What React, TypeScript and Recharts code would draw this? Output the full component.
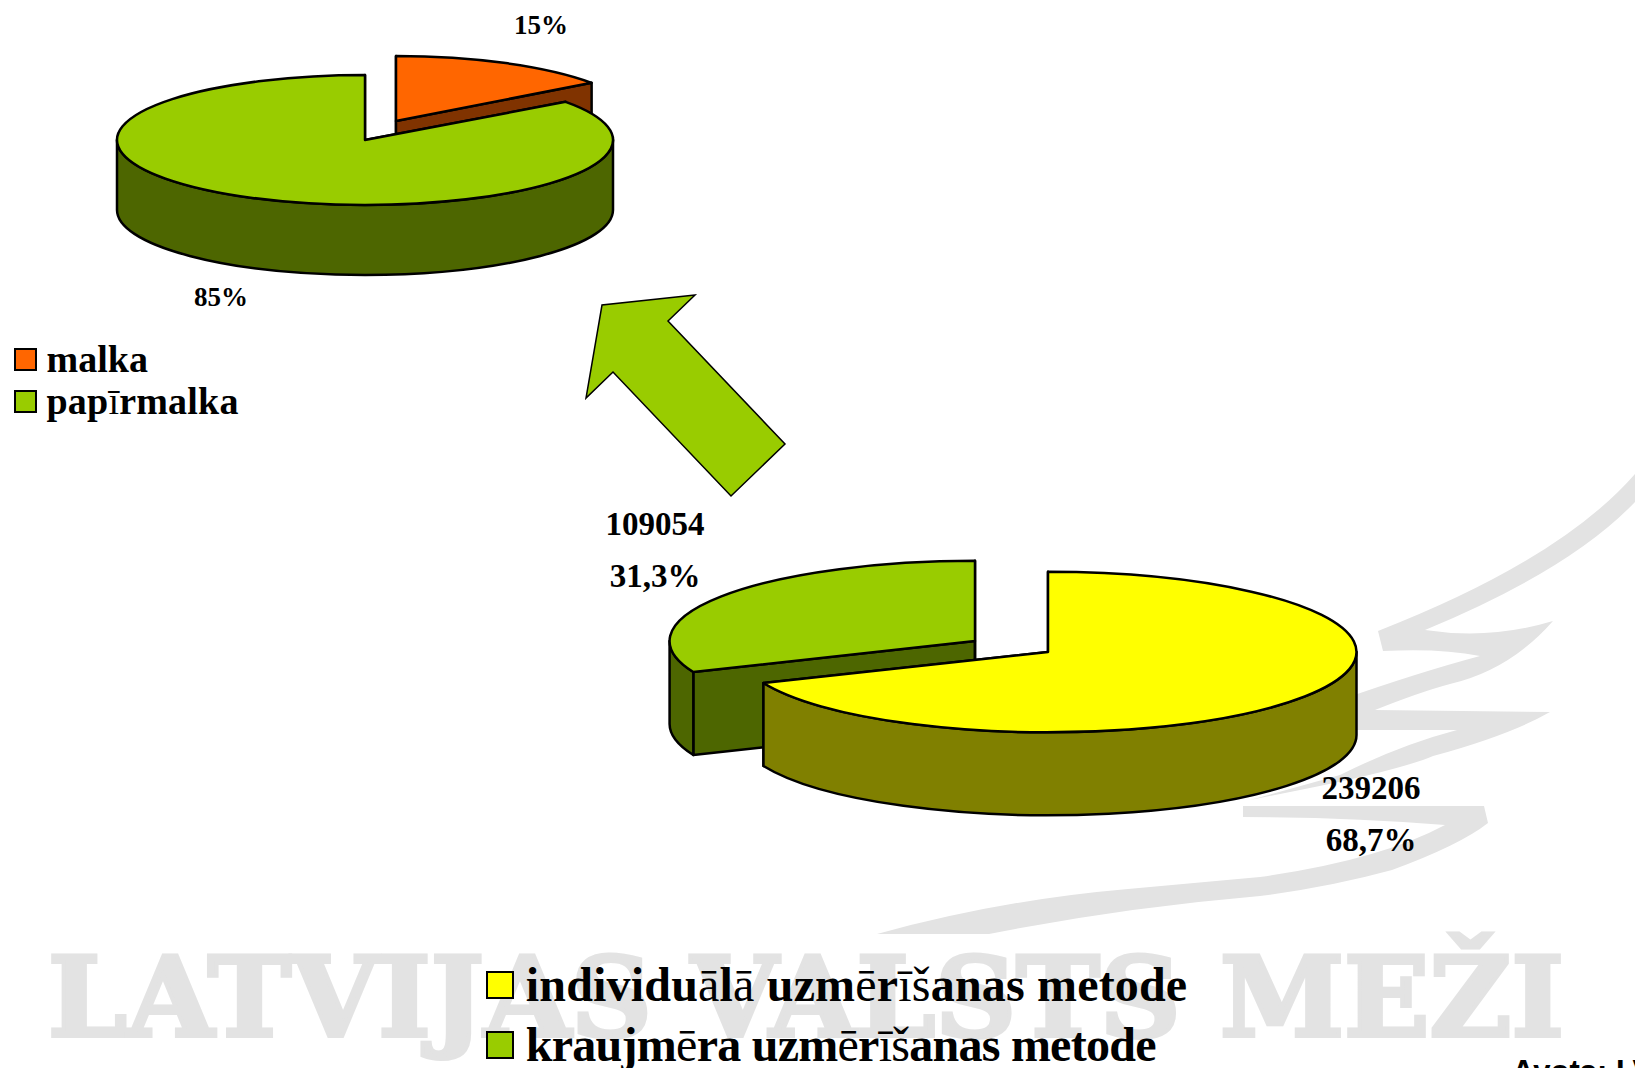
import React from "react";
import { PieChart, Pie, Legend } from "recharts";

const WIDTH = 1635;
const HEIGHT = 1068;
const SERIF = "'Liberation Serif', serif";

// kopējais apjoms pa uzmērīšanas metodēm
const methodNames = ["kraujmēra uzmērīšanas metode", "individuālā uzmērīšanas metode"];
const methodValues = [109054, 239206];
const methodColors = ["#99CC00", "#FFFF00"];
const methodSides = ["#4D6600", "#808000"];

// kraujmēra sadalījums
const woodNames = ["malka", "papīrmalka"];
const woodValues = [15, 85];
const woodColors = ["#FF6600", "#99CC00"];
const woodSides = ["#803300", "#4D6600"];

const methodData = methodNames.map((name, i) => ({
  name,
  value: methodValues[i],
  fill: methodColors[i],
  side: methodSides[i],
}));
const woodData = woodNames.map((name, i) => ({
  name,
  value: woodValues[i],
  fill: woodColors[i],
  side: woodSides[i],
}));

// pirmā sektora sākums, lai individuālā sāktos augšā un ietu pulksteņrādītāja virzienā
const methodStart = 90 + (360 * methodValues[0]) / (methodValues[0] + methodValues[1]);

// nobīde x, y un platuma mērogs izvirzītajiem sektoriem
const explode: Record<string, [number, number, number]> = {
  [methodNames[0]]: [-73, -11, 0.99],
  [woodNames[0]]: [31, -19, 0.975],
};

const labelAt: Record<string, [number, number][]> = {
  [methodNames[0]]: [[655, 535], [655, 587]],
  [methodNames[1]]: [[1371, 799], [1371, 851]],
  [woodNames[0]]: [[541, 34]],
  [woodNames[1]]: [[221, 306]],
};

const legendAt = [
  { names: woodNames, spacing: [0, 0.2], left: 14, top: 346.5, box: 21, size: 38, gap: 42.5 },
  {
    names: [methodNames[1], methodNames[0]],
    spacing: [0.18, -0.74],
    left: 486,
    top: 969.5,
    box: 26,
    size: 48,
    gap: 60.5,
  },
];

const arrowPoints = "695,295 602,305 586,398 613,372 731,496 785,444 668,321";

const wingPaths = [
  "M1635 474 Q1560 560 1378 631 L1383 651 Q1440 648 1480 656 Q1420 672 1340 700 L1340 735 L1357 730 L1457 730 Q1400 745 1340 775 L1250 800 L1300 790 Q1400 770 1433 756 Q1510 735 1550 712 L1375 710 Q1420 692 1450 684 Q1510 670 1553 621 Q1490 640 1425 630 Q1570 570 1635 502 Z",
  "M1243 806 L1484 806 L1488 823 Q1460 845 1392 870 Q1330 887 1260 896 Q1120 908 989 934 L877 934 Q1000 900 1128 889 L1260 877 Q1380 860 1445 825 Q1350 817 1243 817 Z",
];

const point = (cx: number, cy: number, rx: number, ry: number, deg: number) => {
  const rad = (deg * Math.PI) / 180;
  return [cx + rx * Math.cos(rad), cy - ry * Math.sin(rad)];
};

// sektors kā elipse ar sānu sienu
const DiscSector = (squash: number, depth: number) => (props: any) => {
  const [dx, dy, widthScale] = explode[props.name] || [0, 0, 1];
  const cx = props.cx + dx;
  const cy = props.cy + dy;
  const rx = props.outerRadius * widthScale;
  const ry = props.outerRadius * squash;
  const { startAngle, endAngle } = props;
  const [x1, y1] = point(cx, cy, rx, ry, startAngle);
  const [x2, y2] = point(cx, cy, rx, ry, endAngle);
  const large = Math.abs(startAngle - endAngle) > 180 ? 1 : 0;
  const top = `M${cx} ${cy} L${x1} ${y1} A${rx} ${ry} 0 ${large} 1 ${x2} ${y2} Z`;
  const line = { stroke: "#000", strokeWidth: 2.5, strokeLinejoin: "round" as const };

  const walls: string[] = [];
  [-1, 0, 1].forEach((k) => {
    const hi = Math.min(startAngle, 360 * k);
    const lo = Math.max(endAngle, -180 + 360 * k);
    if (hi <= lo) return;
    const [ax, ay] = point(cx, cy, rx, ry, hi);
    const [bx, by] = point(cx, cy, rx, ry, lo);
    walls.push(
      `M${ax} ${ay} A${rx} ${ry} 0 0 1 ${bx} ${by} L${bx} ${by + depth} A${rx} ${ry} 0 0 0 ${ax} ${ay + depth} Z`
    );
  });
  const radial = (x: number, y: number) =>
    `M${cx} ${cy} L${x} ${y} L${x} ${y + depth} L${cx} ${cy + depth} Z`;

  return (
    <g>
      <path d={radial(x1, y1)} fill={props.side} {...line} />
      <path d={radial(x2, y2)} fill={props.side} {...line} />
      {walls.map((d) => (
        <path key={d} d={d} fill={props.side} {...line} />
      ))}
      <path d={top} fill={props.fill} {...line} />
    </g>
  );
};

const percentText = (percent: number, digits: number) =>
  `${(percent * 100).toFixed(digits).replace(".", ",")}%`;

const renderLabel = (size: number, withValue: boolean) => (props: any) => {
  const spots = labelAt[props.name];
  const lines = withValue
    ? [String(props.value), percentText(props.percent, 1)]
    : [percentText(props.percent, 0)];
  return (
    <g>
      {lines.map((t, i) => (
        <text
          key={t}
          x={spots[i][0]}
          y={spots[i][1]}
          textAnchor="middle"
          fontFamily={SERIF}
          fontWeight="bold"
          fontSize={size}
          fill="#000"
        >
          {t}
        </text>
      ))}
    </g>
  );
};

// garumzīmes oriģinālā ir plānākas
const lettered = (text: string) =>
  text.split(/([āēīš])/).map((part, i) =>
    i % 2 ? (
      <span key={i} style={{ fontWeight: 400 }}>
        {part}
      </span>
    ) : (
      part
    )
  );

const renderLegend = ({ payload }: any) => (
  <div>
    {legendAt.map((group) =>
      group.names.map((name, i) => {
        const item = (payload || []).find((p: any) => p.value === name);
        return (
          <div
            key={name}
            style={{
              position: "absolute",
              left: group.left,
              top: group.top + i * group.gap,
              display: "flex",
              alignItems: "center",
              whiteSpace: "nowrap",
              fontFamily: SERIF,
              fontWeight: "bold",
              fontSize: group.size,
              letterSpacing: group.spacing[i],
              lineHeight: `${group.box + 4}px`,
              color: "#000",
            }}
          >
            <span
              style={{
                display: "inline-block",
                width: group.box - 2,
                height: group.box - 2,
                marginRight: group.box / 2.2,
                background: item ? item.color : "none",
                border: "2px solid #000",
              }}
            />
            <span>{lettered(name)}</span>
          </div>
        );
      })
    )}
  </div>
);

export default function App() {
  return (
    <div
      style={{
        position: "absolute",
        left: 0,
        top: 0,
        width: WIDTH,
        height: HEIGHT,
        overflow: "hidden",
        background: "#fff",
      }}
    >
      <svg width={WIDTH} height={HEIGHT} style={{ position: "absolute", left: 0, top: 0 }}>
        {wingPaths.map((d) => (
          <path key={d} d={d} fill="#E3E3E3" />
        ))}
        <text
          x={48}
          y={1036}
          textLength={1516}
          lengthAdjust="spacingAndGlyphs"
          fontFamily="'DejaVu Serif', serif"
          fontWeight="bold"
          fontSize={110}
          fill="#E3E3E3"
          stroke="#E3E3E3"
          strokeWidth={4}
        >
          LATVIJAS VALSTS MEŽI
        </text>
        <polygon points={arrowPoints} fill="#99CC00" stroke="#000" strokeWidth={1.5} />
      </svg>
      <div style={{ position: "absolute", left: 0, top: 0 }}>
        <PieChart width={WIDTH} height={HEIGHT} margin={{ top: 0, right: 0, bottom: 0, left: 0 }}>
          <Pie
            data={woodData}
            dataKey="value"
            nameKey="name"
            cx={365}
            cy={140}
            outerRadius={248}
            startAngle={90}
            endAngle={-270}
            stroke="#000"
            shape={DiscSector(0.262, 70)}
            label={renderLabel(27, false)}
            labelLine={false}
            isAnimationActive={false}
          />
          <Pie
            data={methodData}
            dataKey="value"
            nameKey="name"
            cx={1048}
            cy={652}
            outerRadius={308.5}
            startAngle={methodStart}
            endAngle={methodStart - 360}
            stroke="#000"
            shape={DiscSector(0.26, 83)}
            label={renderLabel(33, true)}
            labelLine={false}
            isAnimationActive={false}
          />
          <Legend
            content={renderLegend}
            wrapperStyle={{ position: "absolute", left: 0, top: 0, width: WIDTH, height: HEIGHT }}
          />
        </PieChart>
      </div>
      <div
        style={{
          position: "absolute",
          left: 1512,
          top: 1054,
          fontFamily: "'Liberation Sans', sans-serif",
          fontWeight: "bold",
          fontSize: 31,
          whiteSpace: "nowrap",
        }}
      >
        Avots: LVM
      </div>
    </div>
  );
}
